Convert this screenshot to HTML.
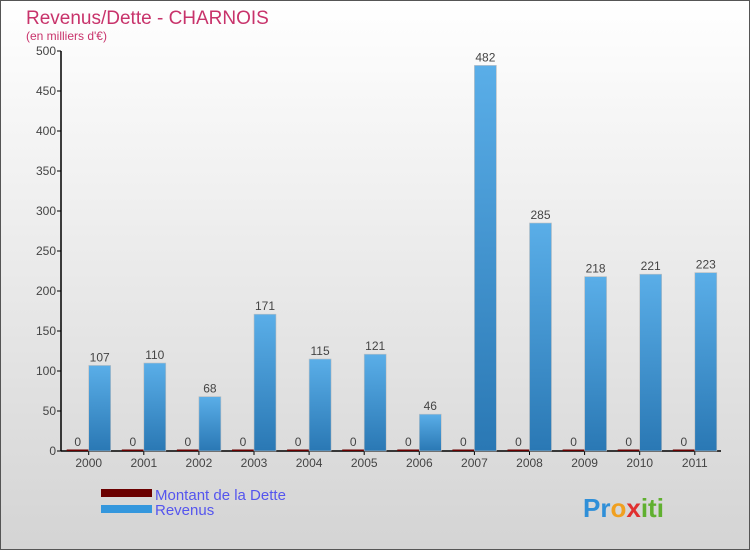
<!DOCTYPE html>
<html><head><meta charset="utf-8"><style>
html,body{margin:0;padding:0}
body{width:750px;height:550px;overflow:hidden;font-family:"Liberation Sans",sans-serif}
#wrap{position:relative;width:748px;height:548px;border:1px solid #555;background:linear-gradient(#ffffff,#d4d4d4)}
</style></head><body>
<div id="wrap">
<svg id="chart" width="748" height="548" style="position:absolute;left:0;top:0">
<text x="25" y="23" font-size="19" fill="#c8336b">Revenus/Dette - CHARNOIS</text>
<text x="25" y="39" font-size="12" fill="#c8336b">(en milliers d'€)</text>
<defs>
<linearGradient id="gb" x1="0" y1="0" x2="0" y2="1"><stop offset="0" stop-color="#5aaee8"/><stop offset="1" stop-color="#2a78b4"/></linearGradient>
<linearGradient id="gl" x1="0" y1="0" x2="1" y2="0"><stop offset="0" stop-color="#2f8fd8"/><stop offset="1" stop-color="#55a9e6"/></linearGradient>
</defs>
<g id="axes"></g><g id="bars"></g>
<rect x="100" y="488" width="51" height="8" fill="#6b0000"/>
<rect x="100" y="504" width="51" height="8" fill="#3497dd"/>
<text x="154" y="499" font-size="15" fill="#5555ee">Montant de la Dette</text>
<text x="154" y="514" font-size="15" fill="#5555ee">Revenus</text>
<text x="582" y="516" font-size="26" font-weight="bold" fill="#3a9ad8"><tspan fill="#2f8fd8">Pr</tspan><tspan fill="#f0a020">o</tspan><tspan fill="#e03030">x</tspan><tspan fill="#60b030">iti</tspan></text>
</svg>
</div>
<script>
const years=["2000","2001","2002","2003","2004","2005","2006","2007","2008","2009","2010","2011"];
const dette=[0,0,0,0,0,0,0,0,0,0,0,0];
const revenus=[107,110,68,171,115,121,46,482,285,218,221,223];
const yTicks=[0,50,100,150,200,250,300,350,400,450,500];
const NS="http://www.w3.org/2000/svg";
const y0=450,yTop=50,yMax=500;
const ys=v=>y0-(v/yMax)*(y0-yTop);
const xc=i=>87.7+i*55.1;
const ax=document.getElementById('axes'),bg=document.getElementById('bars');
function mk(tag,at,parent){const e=document.createElementNS(NS,tag);for(const k in at)e.setAttribute(k,at[k]);parent.appendChild(e);return e;}
let l=mk('line',{x1:60,y1:yTop,x2:60,y2:y0,stroke:'#000','stroke-width':1.5},ax);


l=mk('line',{x1:60,y1:y0,x2:720,y2:y0,stroke:'#000','stroke-width':1.5},ax);


yTicks.forEach(t=>{
 const tk=mk('line',{x1:56,x2:60,y1:ys(t),y2:ys(t),stroke:'#000'},ax);
 
 
 const tx=mk('text',{x:55,y:ys(t)+4,'font-size':12,fill:'#444','text-anchor':'end'},ax);
 tx.textContent=t;
 
 
});
years.forEach((yr,i)=>{
 const c=xc(i);
 const tk=mk('line',{x1:c,x2:c,y1:y0,y2:y0+4,stroke:'#000'},ax);
 
 
 const tx=mk('text',{x:c,y:y0+16,'font-size':12,fill:'#444','text-anchor':'middle'},ax);
 tx.textContent=yr;
 
 
 const dh=Math.max(y0-ys(dette[i]),1.5);
 const d=mk('rect',{x:c-22,y:y0-dh,width:22,height:dh,fill:'#6b0000'},bg);
 
 
 const dl=mk('text',{x:c-11,y:ys(dette[i])-5,'font-size':12,fill:'#444','text-anchor':'middle'},bg);
 dl.textContent=dette[i];
 
 
 const r=mk('rect',{x:c,y:ys(revenus[i]),width:22,height:y0-ys(revenus[i]),fill:'url(#gb)',stroke:'#c0c0c0','stroke-width':0.6},bg);
 
 
 const rl=mk('text',{x:c+11,y:ys(revenus[i])-4,'font-size':12,fill:'#444','text-anchor':'middle'},bg);
 rl.textContent=revenus[i];
 
 
});
</script>
</body></html>
